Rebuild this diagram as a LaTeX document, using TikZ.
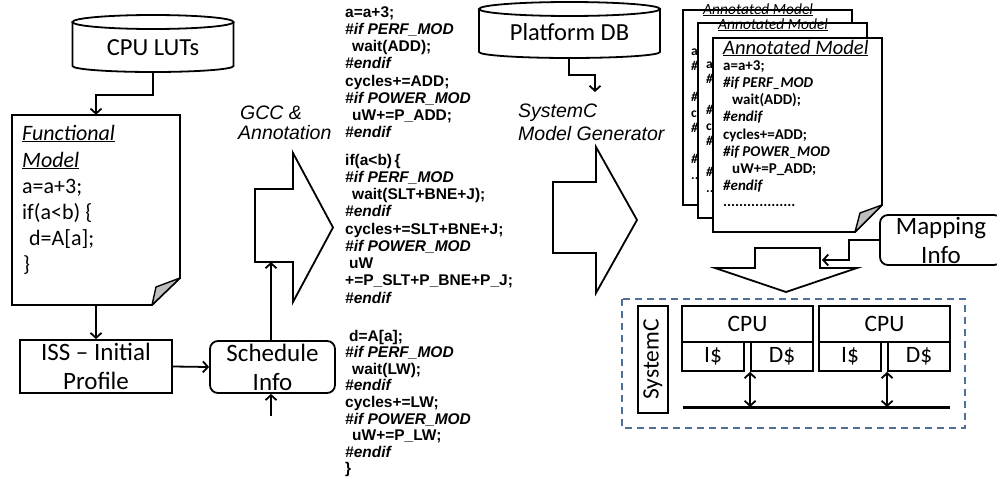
\documentclass[tikz,border=0pt]{standalone}
\usepackage{fontspec}
\setmainfont{Carlito}
\newfontfamily\arialf{Liberation Sans}
\usetikzlibrary{arrows.meta}

% one line of the annotated source listing (Arial-like, bold)
\newcommand\codeln[3]{\node[codetxt] (#1) at (345,{#2+5}) {#3};}
% one line of the front annotated model sheet
\newcommand\annln[3]{\node[anntxt] (#1) at (723,{#2+5}) {#3};}
% directive keywords
\newcommand\dirk[1]{\textit{#1}}

\begin{document}
\begin{tikzpicture}[x=1pt,y=-1pt,
  outl/.style={draw=black, line width=1.8pt, fill=white, line join=miter},
  boxs/.style={draw=black, line width=1.8pt, fill=white, align=center, inner sep=0pt,
               font=\fontsize{25}{29}\selectfont},
  cpub/.style={draw=black, line width=1.8pt, fill=white, inner sep=0pt,
               font=\fontsize{23.5}{26}\selectfont},
  conn/.style={line width=1.8pt, -{Straight Barb[length=5pt,width=11pt]}},
  dconn/.style={line width=1.8pt, {Straight Barb[length=5pt,width=11pt]}-{Straight Barb[length=5pt,width=11pt]}},
  fold/.style={draw=black, line width=1.4pt, fill=black!25, line join=round},
  lbl/.style={inner sep=0pt, font=\fontsize{24.5}{27}\selectfont},
  doctxt/.style={inner sep=0pt, anchor=base west, font=\fontsize{22}{26}\selectfont},
  codetxt/.style={inner sep=0pt, anchor=base west, font=\arialf\bfseries\fontsize{15.5}{17}\selectfont},
  anntxt/.style={inner sep=0pt, anchor=base west, font=\bfseries\fontsize{15}{17}\selectfont},
  backtxt/.style={inner sep=0pt, anchor=base west, font=\bfseries\fontsize{13.5}{15}\selectfont},
  backttl/.style={inner sep=0pt, anchor=base west, font=\itshape\fontsize{15.5}{17}\selectfont},
  steplbl/.style={inner sep=0pt, anchor=base west, font=\arialf\itshape\fontsize{19.5}{22}\selectfont},
  hidden/.style={inner sep=0pt, draw=none}
]
\useasboundingbox (0,0) rectangle (997,479);

% ---------- CPU LUTs database ----------
\draw[outl] (72.5,22) -- (72.5,66) arc[start angle=180,end angle=0,x radius=80.5,y radius=6] -- (233.5,22);
\draw[outl] (153,22) ellipse[x radius=80.5, y radius=7];
\node[lbl] (lut) at (153,48) {CPU LUTs};
\coordinate (lutb) at (153,72);

% ---------- functional model document ----------
\node[hidden, minimum width=168, minimum height=190] (fm) at (96,210) {};
\draw[outl] (12,115) -- (180,115) -- (180,278) -- (152,305) -- (12,305) -- cycle;
\draw[fold] (152,305) -- (156,287) -- (180,278) -- cycle;
\node[doctxt] (fm1) at (22,140) {\textit{\underline{Functional}}};
\node[doctxt] (fm2) at (22,167) {\textit{\underline{Model}}};
\node[doctxt] (fm3) at (22,193) {a=a+3;};
\node[doctxt] (fm4) at (22,219) {if(a<b) \{};
\node[doctxt] (fm5) at (29,245) {d=A[a];};
\node[doctxt] (fm6) at (23,271) {\}};
\draw[conn] (lutb) -- (153,95) -| (fm.north);

% ---------- ISS and schedule ----------
\node[boxs, minimum width=152, minimum height=53] (iss) at (96,366.5) {ISS -- Initial\\Profile};
\node[boxs, rounded corners=8pt, minimum width=125, minimum height=52] (sch) at (272.5,367) {Schedule\\Info};
\draw[conn] (fm.south) -- (iss.north);
\draw[conn] (iss.east) -- (sch.west);
\coordinate (gccin) at (271,262);
\coordinate (schin) at (271,416);
\draw[conn] (sch.north -| gccin) -- (gccin);
\draw[conn] (schin) -- (schin |- sch.south);

% ---------- GCC & annotation step ----------
\draw[outl] (255,189) -- (293,189) -- (293,153) -- (333,227.5) -- (293,302) -- (293,262) -- (255,262) -- cycle;
\node[steplbl] (gcc1) at (240,119) {GCC \&};
\node[steplbl] (gcc2) at (238,139) {Annotation};

% ---------- annotated source listing ----------
\codeln{a1}{12}{a=a+3;}
\codeln{a2}{29.25}{\dirk{\#if PERF\_MOD}}
\codeln{a3}{46.5}{\hspace*{7pt}wait(ADD);}
\codeln{a4}{63.75}{\dirk{\#endif}}
\codeln{a5}{81}{cycles+=ADD;}
\codeln{a6}{98.25}{\dirk{\#if POWER\_MOD}}
\codeln{a7}{115.5}{\hspace*{7pt}uW+=P\_ADD;}
\codeln{a8}{132.75}{\dirk{\#endif}}
\codeln{b1}{160}{if(a<b)\,\{}
\codeln{b2}{177.25}{\dirk{\#if PERF\_MOD}}
\codeln{b3}{194.5}{\hspace*{7pt}wait(SLT+BNE+J);}
\codeln{b4}{211.75}{\dirk{\#endif}}
\codeln{b5}{229}{cycles+=SLT+BNE+J;}
\codeln{b6}{246.25}{\dirk{\#if POWER\_MOD}}
\codeln{b7}{263.5}{\hspace*{4pt}uW}
\codeln{b8}{280.75}{+=P\_SLT+P\_BNE+P\_J;}
\codeln{b9}{298}{\dirk{\#endif}}
\codeln{c1}{336}{\hspace*{4pt}d=A[a];}
\codeln{c2}{352.6}{\dirk{\#if PERF\_MOD}}
\codeln{c3}{369.2}{\hspace*{7pt}wait(LW);}
\codeln{c4}{385.8}{\dirk{\#endif}}
\codeln{c5}{402.4}{cycles+=LW;}
\codeln{c6}{419}{\dirk{\#if POWER\_MOD}}
\codeln{c7}{435.6}{\hspace*{7pt}uW+=P\_LW;}
\codeln{c8}{452.2}{\dirk{\#endif}}
\codeln{c9}{468.8}{\}}

% ---------- Platform DB ----------
\draw[outl] (479,9) -- (479,52) arc[start angle=180,end angle=0,x radius=90.5,y radius=6] -- (660,9);
\draw[outl] (569.5,9) ellipse[x radius=90.5, y radius=7];
\node[lbl] (pdb) at (569.5,32) {Platform DB};
\coordinate (pdbb) at (569,58);
\coordinate (genin) at (595,92);
\draw[conn] (pdbb) -- (569,75) -| (genin);

% ---------- SystemC model generator step ----------
\node[steplbl] (gen1) at (518,117) {SystemC};
\node[steplbl] (gen2) at (518,140) {Model Generator};
\draw[outl] (553,182) -- (596,182) -- (596,147) -- (637,220) -- (596,293) -- (596,253) -- (553,253) -- cycle;

% ---------- stack of annotated models (only a strip of the back ones shows) ----------
\foreach \dx/\dy/\ty/\nm in {683/10/14/back, 698/23/29/mid} {
  \draw[outl] (\dx,\dy) rectangle ++(169,195);
  \node[backttl] (\nm t) at (\dx+20,\ty) {\underline{Annotated Model}};
  \begin{scope}
    \clip (\dx,\dy) rectangle ++(15,195);
    \node[backtxt] (\nm 1) at (\dx+8,\dy+45) {a=};
    \node[backtxt] (\nm 2) at (\dx+8,\dy+60.5) {\textit{\#i}};
    \node[backtxt] (\nm 4) at (\dx+8,\dy+91.5) {\textit{\#e}};
    \node[backtxt] (\nm 5) at (\dx+8,\dy+107) {cy};
    \node[backtxt] (\nm 6) at (\dx+8,\dy+122.5) {\textit{\#i}};
    \node[backtxt] (\nm 8) at (\dx+8,\dy+153.5) {\textit{\#e}};
    \node[backtxt] (\nm 9) at (\dx+8,\dy+169) {..};
  \end{scope}
}
\draw[outl] (713,38) -- (882,38) -- (882,205) -- (855,232) -- (713,232) -- cycle;
\draw[fold] (855,232) -- (860,213) -- (882,205) -- cycle;
\node[inner sep=0pt, anchor=base west, font=\itshape\fontsize{20.5}{22}\selectfont] (ft) at (723,54) {\underline{Annotated Model}};
\annln{f1}{65}{a=a+3;}
\annln{f2}{82.25}{\textit{\#if PERF\_MOD}}
\annln{f3}{99.5}{\hspace*{9pt}wait(ADD);}
\annln{f4}{116.75}{\textit{\#endif}}
\annln{f5}{134}{cycles+=ADD;}
\annln{f6}{151.25}{\textit{\#if POWER\_MOD}}
\annln{f7}{168.5}{\hspace*{9pt}uW+=P\_ADD;}
\annln{f8}{185.75}{\textit{\#endif}}
\annln{f9}{201}{..................}

% ---------- mapping info and down arrow ----------
\node[boxs, rounded corners=8pt, minimum width=122, minimum height=50] (map) at (941,240) {Mapping\\Info};
\draw[outl] (755,248) -- (820,248) -- (820,268) -- (857,268) -- (786,292) -- (715,268) -- (755,268) -- cycle;
\coordinate (mapin) at (822,260);
\draw[conn] (map.west) -- ++(-30,0) |- (mapin);

% ---------- SystemC platform ----------
\draw[draw={rgb,255:red,79;green,111;blue,150}, line width=1.5pt, dash pattern=on 7pt off 5pt] (622,299) rectangle (965,428);
\node[cpub, rotate=90, minimum width=107, minimum height=30] (sysc) at (653,359.5) {SystemC};
\node[cpub, minimum width=131, minimum height=36] (cpu1) at (747.5,324) {CPU};
\node[cpub, minimum width=62, minimum height=29] (i1) at (713,356.5) {I\$};
\node[cpub, minimum width=62, minimum height=29] (d1) at (782,356.5) {D\$};
\node[cpub, minimum width=131, minimum height=36] (cpu2) at (884.5,324) {CPU};
\node[cpub, minimum width=62, minimum height=29] (i2) at (850,356.5) {I\$};
\node[cpub, minimum width=62, minimum height=29] (d2) at (919,356.5) {D\$};
\coordinate (busl) at (683,407);
\coordinate (busr) at (950,407);
\draw[line width=3pt] (busl) -- (busr);
\draw[dconn] (d1.south west) -- (d1.south west |- busl);
\draw[dconn] (d2.south west) -- (d2.south west |- busl);
\end{tikzpicture}
\end{document}
